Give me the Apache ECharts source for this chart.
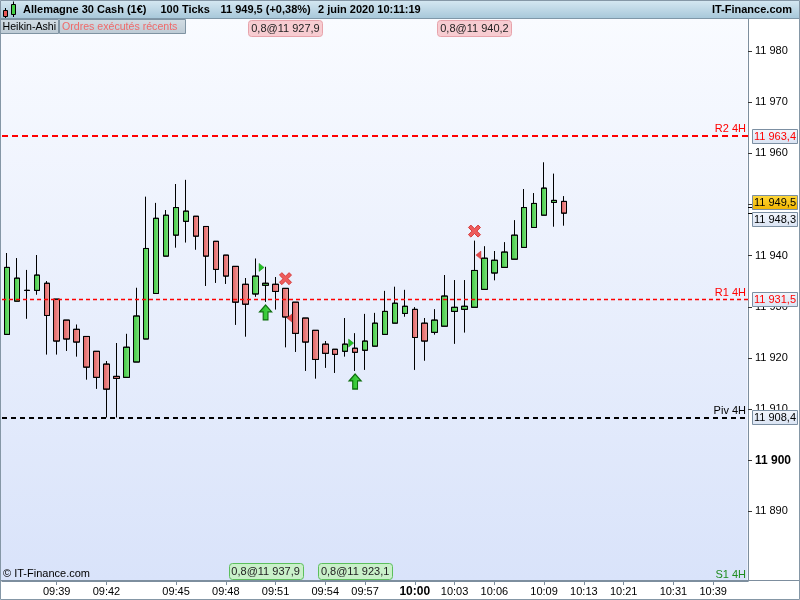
<!DOCTYPE html>
<html><head><meta charset="utf-8">
<script src="https://cdn.jsdelivr.net/npm/echarts@6/dist/echarts.min.js"></script>
<style>html,body{margin:0;padding:0;background:#fff}#c{width:800px;height:600px}</style>
</head><body><div id="c"></div>
<script>
// ---- data ----
const timeLabels = ['09:39','09:42','09:45','09:48','09:51','09:54','09:57','10:00','10:03','10:06','10:09','10:13','10:21','10:31','10:39'];
const labelSlots = [5,10,17,22,27,32,36,41,45,49,54,58,62,67,71];
const slotCount = 75;
const opens  = [11924.6,11931.1,11933.2,11933.2,11934.6,11931.5,11927.4,11925.6,11924.2,11921.3,11918.8,11916.4,11916.2,11919.2,11923.7,11932.6,11939.9,11944.0,11946.7,11947.7,11945.7,11942.8,11940.1,11937.9,11934.4,11932.5,11934.2,11934.4,11933.6,11930.9,11927.8,11925.4,11922.7,11921.7,11921.3,11921.9,11921.5,11922.3,11924.6,11926.8,11928.7,11929.5,11926.8,11925.0,11926.2,11929.1,11929.5,11929.9,11933.4,11936.6,11937.7,11939.3,11941.6,11945.5,11947.9,11950.4,11950.6];
const closes = [11937.7,11935.6,11933.2,11936.2,11928.3,11923.3,11923.7,11923.1,11918.2,11916.2,11913.9,11916.0,11922.1,11928.2,11941.4,11947.3,11947.9,11949.4,11948.7,11943.8,11939.9,11937.3,11936.0,11930.9,11930.5,11936.0,11934.6,11933.0,11928.0,11924.8,11923.1,11919.7,11920.9,11920.7,11922.7,11921.1,11923.3,11926.8,11929.1,11930.7,11930.1,11924.0,11923.3,11927.4,11932.1,11929.9,11930.1,11937.1,11939.5,11939.1,11940.7,11944.0,11949.4,11950.2,11953.2,11950.8,11948.3];
const lows   = [11924.6,11931.1,11927.7,11932.4,11920.7,11920.7,11921.4,11920.3,11915.8,11914.0,11908.4,11908.4,11916.2,11919.2,11923.7,11932.6,11939.9,11941.6,11942.6,11941.2,11934.1,11934.7,11934.5,11926.5,11924.2,11932.0,11931.0,11929.5,11922.1,11921.2,11917.5,11916.0,11918.1,11917.1,11920.3,11917.5,11917.7,11922.3,11924.6,11926.8,11928.1,11917.7,11919.5,11924.6,11926.2,11922.8,11925.0,11929.9,11933.4,11935.2,11937.7,11939.3,11941.6,11945.5,11947.9,11945.7,11945.9];
const highs  = [11940.5,11939.5,11937.2,11940.1,11935.0,11931.5,11927.4,11926.5,11924.2,11921.3,11919.4,11922.9,11924.7,11933.7,11951.5,11950.3,11948.9,11954.0,11954.8,11947.7,11945.7,11942.8,11940.1,11937.9,11935.6,11939.4,11937.8,11935.8,11933.6,11930.9,11927.8,11925.4,11923.3,11921.7,11927.8,11924.8,11928.6,11928.8,11933.1,11933.9,11933.3,11929.9,11927.8,11929.5,11936.2,11935.2,11935.2,11942.9,11941.8,11940.9,11942.6,11946.9,11953.0,11952.2,11958.2,11956.0,11951.6];
const yTicks = [11890,11900,11910,11920,11930,11940,11950,11960,11970,11980];
const yMin = 11876.4, yMax = 11986.45;
const levelNames  = ['R2 4H','R1 4H','Piv 4H'];
const levelValues = [11963.4, 11931.5, 11908.4];
const lastPrice = 11949.5;
const haClose = 11948.3;
const orderSlots  = [28, 47, 26, 35];
const orderPrices = [11927.9, 11940.2, 11937.9, 11923.1];
const orderSides  = ['sell','sell','buy','buy'];
const buyArrowSlots = [26, 35],  buyArrowValues = [11928.9, 11915.4];
const sellCrossSlots = [28, 47], sellCrossValues = [11935.5, 11944.8];
const greenTriSlots = [26, 35],  greenTriValues = [11937.7, 11922.9];
const redTriSlots = [29, 48],    redTriValues = [11927.8, 11940.1];
const headerTexts = ['Allemagne 30 Cash (1€)', '100 Ticks', '11 949,5 (+0,38%)', '2 juin 2020 10:11:19'];

// ---- build ----
const FONT = '"Liberation Sans", Arial, sans-serif';
const categories = Array.from({length: slotCount}, (_, i) => {
  const k = labelSlots.indexOf(i); return k >= 0 ? timeLabels[k] : 't' + i;
});
const candleData = opens.map((o, i) => [o, closes[i], lows[i], highs[i]]);
function fmtPrice(v, dec) {
  const s = v.toFixed(dec); const parts = s.split('.'); const ip = parts[0];
  return ip.slice(0, -3) + ' ' + ip.slice(-3) + (dec ? ',' + parts[1] : '');
}
const showSlot = (i) => labelSlots.indexOf(i) >= 0;
const greenGrad = new echarts.graphic.LinearGradient(0, 0, 1, 0, [{offset:0,color:'#39c539'},{offset:1,color:'#86e486'}]);
const redGrad = new echarts.graphic.LinearGradient(0, 0, 1, 0, [{offset:0,color:'#dd5a5a'},{offset:1,color:'#f5a3a3'}]);
const levelColors = ['#ff0000','#ff0000','#000000'];
const levelStyles = [{width:2,type:[6,4]},{width:1.3,type:[4,3]},{width:2,type:[5,4]}];

const arrowPath = 'path://M5,0 L10,6 L7,6 L7,13 L3,13 L3,6 L0,6 Z';
const crossPath = 'path://M2,0 L5,3 L8,0 L10,2 L7,5 L10,8 L8,10 L5,7 L2,10 L0,8 L3,5 L0,2 Z';
const rightTri = 'path://M0,0 L5,4 L0,8 Z';
const leftTri = 'path://M5,0 L0,4 L5,8 Z';

const option = {
  animation: false,
  backgroundColor: '#ffffff',
  textStyle: {fontFamily: FONT},
  grid: {left: 2, right: 52, top: 18, bottom: 19},
  xAxis: {
    type: 'category', data: categories, boundaryGap: true,
    axisLine: {lineStyle: {color: '#7d8e9e'}},
    axisTick: {show: true, interval: (i) => showSlot(i), alignWithLabel: true, length: 4, lineStyle: {color: '#7d8e9e'}},
    axisLabel: {interval: (i) => showSlot(i), color: '#000', fontSize: 11, fontFamily: FONT, margin: 5,
      formatter: (v) => v === '10:00' ? '{b|' + v + '}' : v,
      rich: {b: {fontWeight: 'bold', fontSize: 12, fontFamily: FONT, color: '#000'}}},
    splitLine: {show: false}
  },
  yAxis: {
    type: 'value', position: 'right', min: yMin, max: yMax,
    axisLine: {show: true, lineStyle: {color: '#7d8e9e'}},
    axisTick: {show: true, length: 4, customValues: yTicks, lineStyle: {color: '#333'}},
    axisLabel: {customValues: yTicks, margin: 7, color: '#000', fontSize: 11, fontFamily: FONT,
      formatter: (v) => v === 11900 ? '{b|' + fmtPrice(v, 0) + '}' : fmtPrice(v, 0),
      rich: {b: {fontWeight: 'bold', fontSize: 12, fontFamily: FONT, color: '#000'}}},
    splitLine: {show: false}
  },
  series: [
    {
      type: 'candlestick', data: candleData, barWidth: 6, z: 3,
      itemStyle: {color: greenGrad, color0: redGrad, borderColor: '#000', borderColor0: '#000', borderColorDoji: '#000', borderWidth: 1},
      markLine: {
        silent: true, symbol: ['none', 'none'], animation: false,
        data: levelValues.map((v, i) => ({
          yAxis: v, name: levelNames[i],
          lineStyle: {color: levelColors[i], width: levelStyles[i].width, type: levelStyles[i].type, opacity: 1},
          label: {show: true, position: 'insideEndTop', formatter: levelNames[i], color: levelColors[i], fontSize: 11, fontFamily: FONT, distance: [2, 1]}
        }))
      }
    },
    {type: 'scatter', z: 5, data: buyArrowSlots.map((s, i) => [s, buyArrowValues[i]]), symbol: arrowPath, symbolSize: [12, 15],
      itemStyle: {color: new echarts.graphic.LinearGradient(0,0,1,0,[{offset:0,color:'#1fb81f'},{offset:1,color:'#55dd55'}]), borderColor: '#0d6e0d', borderWidth: 1.2, opacity: 1}},
    {type: 'scatter', z: 5, data: sellCrossSlots.map((s, i) => [s, sellCrossValues[i]]), symbol: crossPath, symbolSize: 12,
      itemStyle: {color: '#ee5c5c', borderColor: '#d63a3a', borderWidth: 1, opacity: 1}},
    {type: 'scatter', z: 5, data: greenTriSlots.map((s, i) => [s, greenTriValues[i]]), symbol: rightTri, symbolSize: [5, 8], symbolOffset: [-4, 0],
      itemStyle: {color: '#22c022', borderColor: '#148a14', borderWidth: 0.5, opacity: 1}},
    {type: 'scatter', z: 5, data: redTriSlots.map((s, i) => [s, redTriValues[i]]), symbol: leftTri, symbolSize: [5, 8], symbolOffset: [-6, 0],
      itemStyle: {color: '#e64848', borderColor: '#c03030', borderWidth: 0.5, opacity: 1}}
  ]
};

const chart = echarts.init(document.getElementById('c'), null, {renderer: 'canvas'});
chart.setOption(option);

const toPx = (i, v) => chart.convertToPixel({gridIndex: 0}, [i, v]);
const gfx = [];
// plot background
gfx.push({type: 'rect', z: -10, silent: true, shape: {x: 0, y: 18, width: 747.5, height: 562.5},
  style: {fill: new echarts.graphic.LinearGradient(0,0,0,1,[{offset:0,color:'#f9fbff'},{offset:1,color:'#d9e3fa'}])}});
// header
gfx.push({type: 'rect', z: 50, silent: true, shape: {x: 0, y: 0, width: 800, height: 18},
  style: {fill: new echarts.graphic.LinearGradient(0,0,0,1,[{offset:0,color:'#d6e8f2'},{offset:1,color:'#a8c8da'}])}});
gfx.push({type: 'line', z: 51, silent: true, shape: {x1: 0, y1: 18.5, x2: 800, y2: 18.5}, style: {stroke: '#7f97a8', lineWidth: 1}});
// icon
gfx.push({type: 'line', z: 52, shape: {x1: 5.5, y1: 8, x2: 5.5, y2: 18}, style: {stroke: '#000', lineWidth: 1}});
gfx.push({type: 'rect', z: 53, shape: {x: 3.5, y: 10.5, width: 4, height: 6}, style: {fill: '#e85555', stroke: '#000', lineWidth: 1}});
gfx.push({type: 'line', z: 52, shape: {x1: 13.5, y1: 1.5, x2: 13.5, y2: 17}, style: {stroke: '#000', lineWidth: 1}});
gfx.push({type: 'rect', z: 53, shape: {x: 11.5, y: 4.5, width: 4, height: 10}, style: {fill: '#44d044', stroke: '#000', lineWidth: 1}});
const headerX = [23, 160.5, 220.5, 318];
headerTexts.forEach((t, i) => gfx.push({type: 'text', z: 54, silent: true,
  style: {text: t, x: headerX[i], y: 10, font: 'bold 11px ' + FONT, fill: '#000', verticalAlign: 'middle'}}));
gfx.push({type: 'text', z: 54, silent: true, style: {text: 'IT-Finance.com', x: 792, y: 10, font: 'bold 11px ' + FONT, fill: '#000', align: 'right', verticalAlign: 'middle'}});
// second row boxes
const boxFill = new echarts.graphic.LinearGradient(0,0,0,1,[{offset:0,color:'#d3dde4'},{offset:1,color:'#bccad4'}]);
gfx.push({type: 'rect', z: 50, silent: true, shape: {x: 0.5, y: 19.5, width: 58, height: 14}, style: {fill: boxFill, stroke: '#7f93a2', lineWidth: 1}});
gfx.push({type: 'text', z: 51, silent: true, style: {text: 'Heikin-Ashi', x: 2.5, y: 27, font: '10.6px ' + FONT, fill: '#000', verticalAlign: 'middle'}});
gfx.push({type: 'rect', z: 50, silent: true, shape: {x: 59.5, y: 19.5, width: 126, height: 14}, style: {fill: boxFill, stroke: '#7f93a2', lineWidth: 1}});
gfx.push({type: 'text', z: 51, silent: true, style: {text: 'Ordres exécutés récents', x: 62, y: 27, font: '10.6px ' + FONT, fill: '#ef6a6a', verticalAlign: 'middle'}});
// order tags
orderSlots.forEach((s, i) => {
  const p = toPx(s, orderPrices[i]);
  const sell = orderSides[i] === 'sell';
  const w = 74, h = 16;
  const y = sell ? 20.5 : 563.5;
  gfx.push({type: 'rect', z: 40, silent: true, shape: {x: Math.round(p[0] - w / 2) + 0.5, y: y, width: w, height: h, r: 3},
    style: {fill: sell ? '#f7ccd1' : '#c9f0c9', stroke: sell ? '#e7a3ab' : '#5cbf5c', lineWidth: 1}});
  gfx.push({type: 'text', z: 41, silent: true, style: {text: '0,8@' + fmtPrice(orderPrices[i], 1), x: p[0], y: y + h / 2 + 0.5,
    font: '11px ' + FONT, fill: '#222', align: 'center', verticalAlign: 'middle'}});
});
// footer texts
gfx.push({type: 'text', z: 41, silent: true, style: {text: '© IT-Finance.com', x: 3, y: 574, font: '11px ' + FONT, fill: '#000', verticalAlign: 'middle'}});
gfx.push({type: 'text', z: 41, silent: true, style: {text: 'S1 4H', x: 746, y: 575, font: '11px ' + FONT, fill: '#1e8c1e', align: 'right', verticalAlign: 'middle'}});
// price tags on the right axis
function tag(value, dy, textColor, fill) {
  const p = toPx(0, value);
  const yc = p[1] + dy;
  gfx.push({type: 'rect', z: 60, silent: true, shape: {x: 752.5, y: Math.round(yc - 7) + 0.5, width: 45, height: 14},
    style: {fill: fill, stroke: '#7c8fa2', lineWidth: 1}});
  gfx.push({type: 'text', z: 61, silent: true, style: {text: fmtPrice(value, 1), x: 754, y: Math.round(yc) + 0.5,
    font: '11px ' + FONT, fill: textColor, verticalAlign: 'middle'}});
}
const tagFill = new echarts.graphic.LinearGradient(0,0,0,1,[{offset:0,color:'#f3f6fc'},{offset:1,color:'#d9e3f3'}]);
const yellowFill = new echarts.graphic.LinearGradient(0,0,0,1,[{offset:0,color:'#ffd83a'},{offset:1,color:'#f0b400'}]);
levelValues.forEach((v, i) => tag(v, 0, i < 2 ? '#ff0000' : '#000', tagFill));
[lastPrice, haClose].forEach((v) => {
  const p = toPx(0, v);
  gfx.push({type: 'line', z: 59, silent: true, shape: {x1: 748, y1: Math.round(p[1]) + 0.5, x2: 753, y2: Math.round(p[1]) + 0.5}, style: {stroke: '#000', lineWidth: 1}});
});
tag(lastPrice, -5, '#000', yellowFill);
tag(haClose, 6, '#000', tagFill);
// frame lines
gfx.push({type: 'line', z: 30, silent: true, shape: {x1: 0, y1: 580.5, x2: 800, y2: 580.5}, style: {stroke: '#7d8e9e', lineWidth: 1}});
gfx.push({type: 'rect', z: 70, silent: true, shape: {x: 0.5, y: 0.5, width: 799, height: 599}, style: {fill: 'none', stroke: '#8597a6', lineWidth: 1}});
chart.setOption({graphic: gfx});
</script></body></html>
